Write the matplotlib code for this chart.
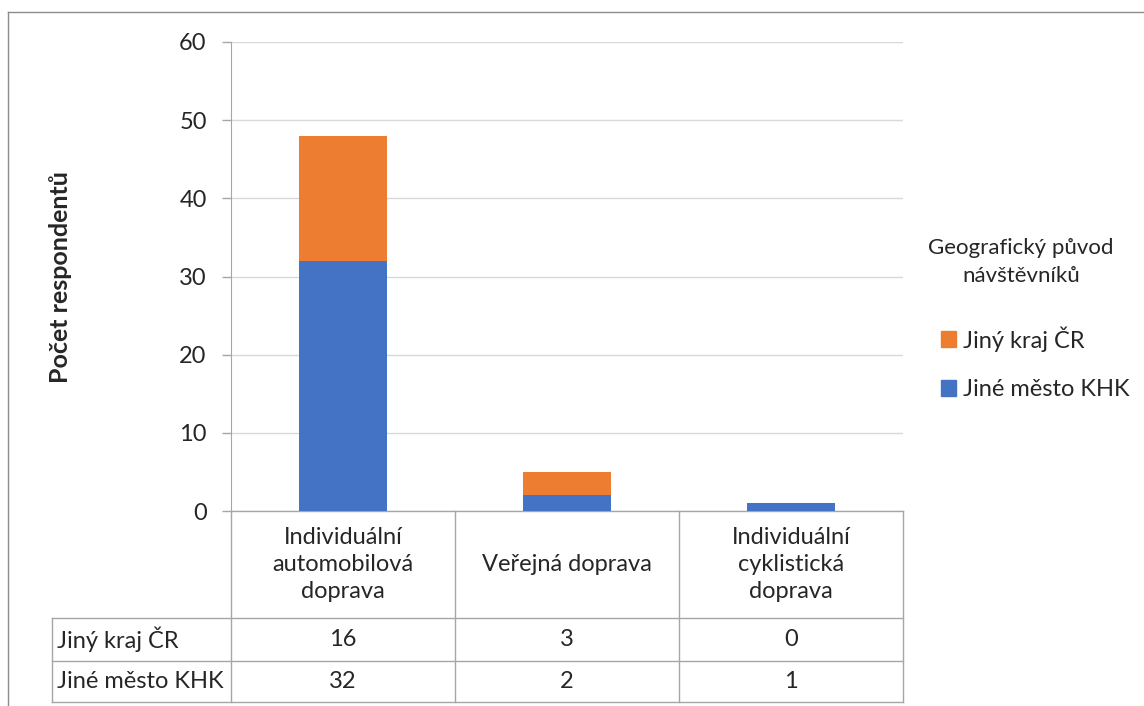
import matplotlib
matplotlib.use("Agg")
import matplotlib.pyplot as plt
from matplotlib.lines import Line2D
from matplotlib.patches import Patch

plt.rcParams["font.family"] = ["Lato", "DejaVu Sans"]

categories = ["Individuální\nautomobilová\ndoprava", "Veřejná doprava", "Individuální\ncyklistická\ndoprava"]
series_names = ["Jiný kraj ČR", "Jiné město KHK"]
jiny_kraj = [16, 3, 0]
jine_mesto = [32, 2, 1]
y_ticks = [0, 10, 20, 30, 40, 50, 60]

ORANGE = "#ED7D31"
BLUE = "#4472C4"
GRID = "#d9d9d9"
LINE = "#a6a6a6"
TEXT = "#262626"
FS = 17

W, H = 1144, 706
fig = plt.figure(figsize=(W / 100, H / 100), dpi=100)

# plot area in pixel coordinates
px_left, px_right, px_top, px_bottom = 231, 903, 42, 511
ax = fig.add_axes([px_left / W, 1 - px_bottom / H, (px_right - px_left) / W, (px_bottom - px_top) / H])

x = list(range(len(categories)))
ax.bar(x, jine_mesto, width=0.395, color=BLUE, zorder=3)
ax.bar(x, jiny_kraj, width=0.395, bottom=jine_mesto, color=ORANGE, zorder=3)

ax.set_xlim(-0.5, len(categories) - 0.5)
ax.set_ylim(0, 60)
ax.set_yticks(y_ticks)
ax.set_yticklabels([str(t) for t in y_ticks], fontsize=FS, color=TEXT)
ax.set_xticks([])
ax.tick_params(axis="y", length=6.5, width=1, color=LINE, pad=11)
ax.grid(axis="y", color=GRID, linewidth=1, zorder=0)
for side in ["top", "right", "bottom"]:
    ax.spines[side].set_visible(False)
ax.spines["left"].set_color(LINE)

fig.text(61 / W, 1 - 277 / H, "Počet respondentů", rotation=90, ha="center", va="center",
         fontsize=18, fontweight="bold", color=TEXT)

# data table below the axes, in axes fraction coordinates
def ax_x(px):
    return (px - px_left) / (px_right - px_left)

def ax_y(py):
    return (px_bottom - py) / (px_bottom - px_top)

col_edges = [231, 455, 679, 903]
row_edges = [511, 618, 661, 702]
label_left = 52

def seg(x0, y0, x1, y1):
    ax.add_line(Line2D([ax_x(x0), ax_x(x1)], [ax_y(y0), ax_y(y1)], transform=ax.transAxes,
                       color=LINE, linewidth=1, clip_on=False))

seg(col_edges[0], row_edges[0], col_edges[-1], row_edges[0])
for ry in row_edges[1:]:
    seg(label_left, ry, col_edges[-1], ry)
for cx in col_edges:
    seg(cx, row_edges[0], cx, row_edges[-1])
seg(label_left, row_edges[1], label_left, row_edges[-1])

for i, cat in enumerate(categories):
    cx = (col_edges[i] + col_edges[i + 1]) / 2
    ax.text(ax_x(cx), ax_y((row_edges[0] + row_edges[1]) / 2), cat, transform=ax.transAxes,
            ha="center", va="center", fontsize=FS, color=TEXT, linespacing=1.38)

for r, (name, vals) in enumerate(zip(series_names, [jiny_kraj, jine_mesto])):
    cy = ax_y((row_edges[r + 1] + row_edges[r + 2]) / 2)
    ax.text(ax_x(label_left + 5), cy, name, transform=ax.transAxes,
            ha="left", va="center", fontsize=FS, color=TEXT)
    for i, v in enumerate(vals):
        cx = (col_edges[i] + col_edges[i + 1]) / 2
        ax.text(ax_x(cx), cy, str(v), transform=ax.transAxes,
                ha="center", va="center", fontsize=FS, color=TEXT)

# legend with its title drawn as a separate centred text
fig.text(1021 / W, 1 - 262 / H, "Geografický původ\nnávštěvníků", ha="center", va="center",
         fontsize=16, color=TEXT, linespacing=1.45)
handles = [Patch(color=ORANGE), Patch(color=BLUE)]
fig.legend(handles, series_names, loc="upper left", bbox_to_anchor=(941 / W, 1 - 326 / H),
           frameon=False, fontsize=FS, handlelength=0.65, handleheight=0.65, handletextpad=0.3,
           labelspacing=1.17, labelcolor=TEXT, borderaxespad=0, borderpad=0)

# outer chart border
fig.add_artist(Line2D([8 / W, 8 / W], [0, 1 - 12 / H], color="#8c8c8c", linewidth=1))
fig.add_artist(Line2D([8 / W, 1], [1 - 12 / H, 1 - 12 / H], color="#8c8c8c", linewidth=1))

fig.savefig("out.png", dpi=100)
